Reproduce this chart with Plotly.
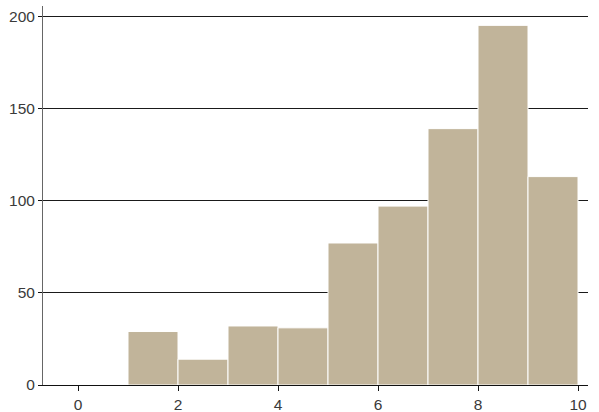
import plotly.graph_objects as go

bin_starts = [0, 1, 2, 3, 4, 5, 6, 7, 8, 9]
counts = [0, 29, 14, 32, 31, 77, 97, 139, 195, 113]
x_ticks = [0, 2, 4, 6, 8, 10]
y_ticks = [0, 50, 100, 150, 200]

fig = go.Figure()
fig.add_trace(go.Bar(
    x=[b + 0.5 for b in bin_starts],
    y=counts,
    width=1,
    marker_color='#c1b49a',
    marker_line_color='white',
    marker_line_width=1,
))

fig.update_layout(
    width=599, height=412,
    margin=dict(l=43, r=11, t=6, b=27, autoexpand=False),
    plot_bgcolor='white', paper_bgcolor='white',
    showlegend=False,
    font=dict(family='Liberation Sans, Arial, sans-serif', size=15.5, color='#3a3a3a'),
)
fig.update_xaxes(
    range=[-0.7, 10.2], tickvals=x_ticks,
    showgrid=False, zeroline=False,
    showline=True, linecolor='#111', linewidth=1,
    ticks='outside', ticklen=5, tickcolor='#111',
)
fig.update_yaxes(
    range=[0, 205.5], tickvals=y_ticks,
    showgrid=True, gridcolor='#1a1a1a', gridwidth=1,
    zeroline=False,
    showline=True, linecolor='#666', linewidth=1,
    ticks='outside', ticklen=4, tickcolor='#111',
)

# drop the default page margin so the chart sits at the window's corner
fig.write_html("out.html", config={'displayModeBar': False},
               post_script="document.body.style.margin='0';")
